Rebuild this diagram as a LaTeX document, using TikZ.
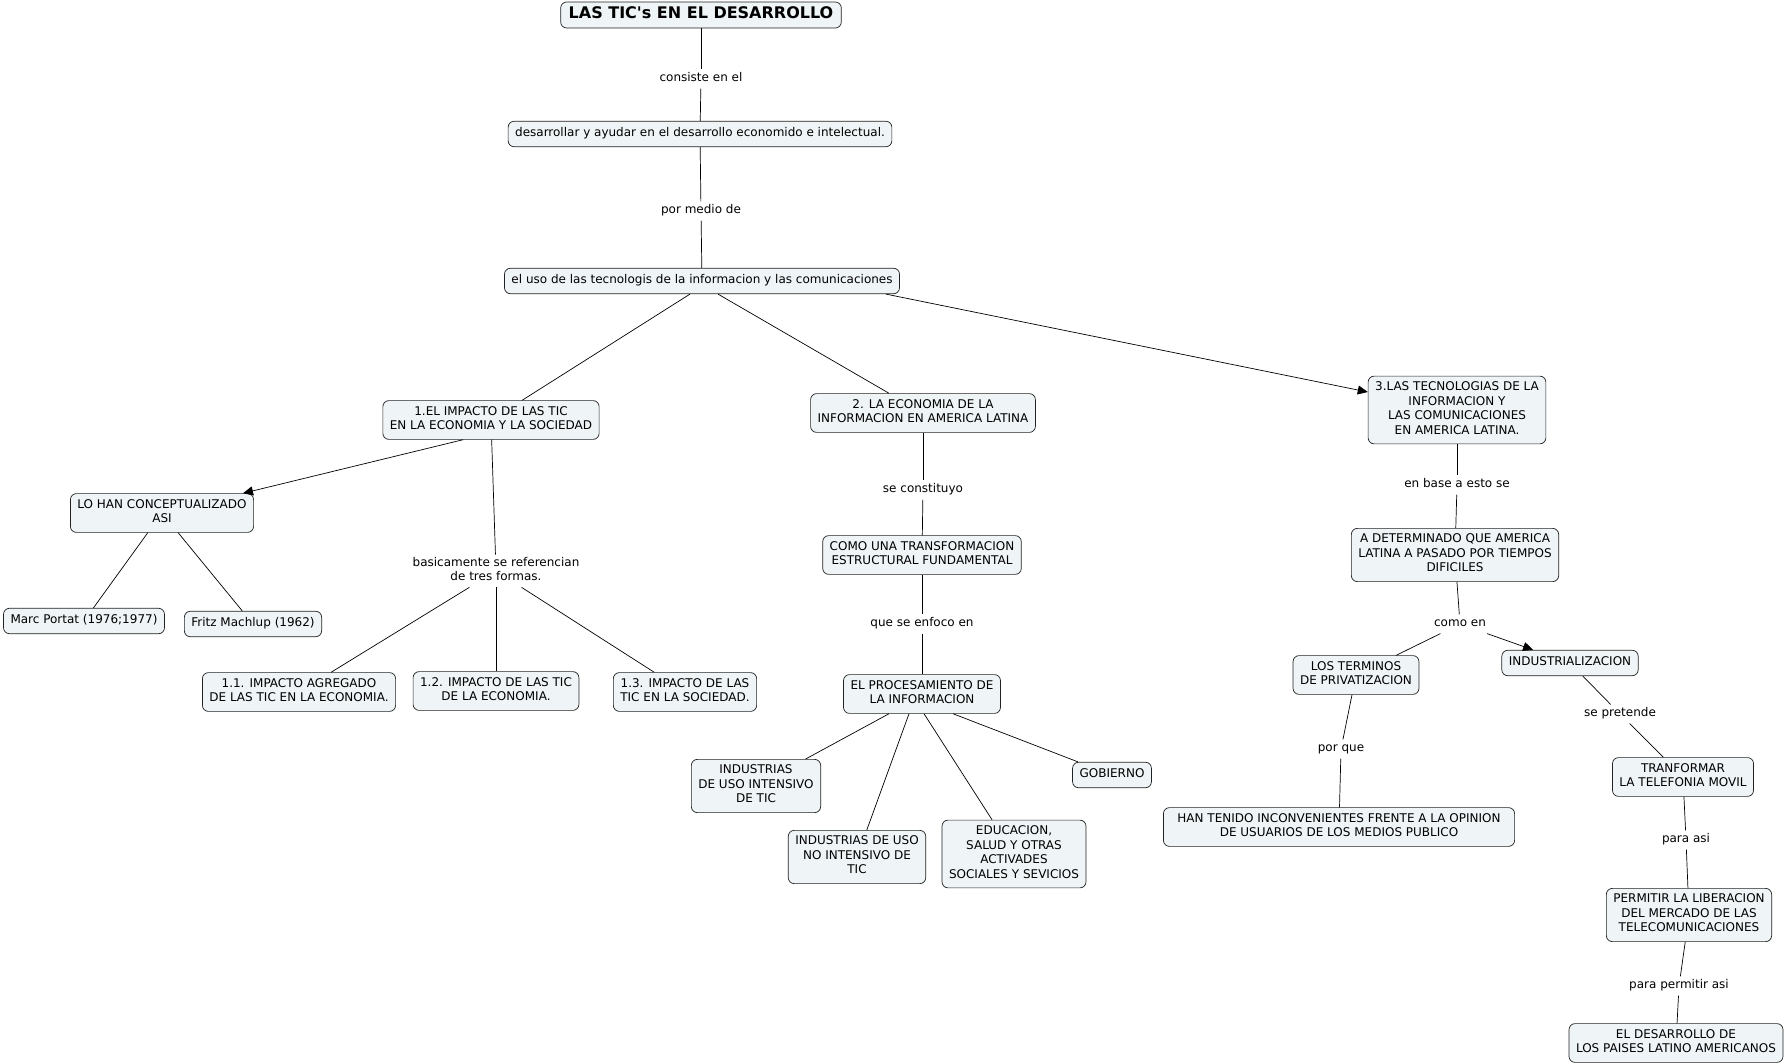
\documentclass[tikz,border=0pt]{standalone}
\usepackage{fontspec}
\setmainfont{DejaVu Sans}
\usepackage{tikz}
\usetikzlibrary{arrows.meta}
\definecolor{conceptfill}{RGB}{239,244,246}
\definecolor{conceptdraw}{RGB}{34,34,34}

\begin{document}
\begin{tikzpicture}[x=1pt,y=-1pt,line width=0.7pt,>={Triangle[length=10pt,width=9pt]},
    concept/.style={draw=conceptdraw,fill=conceptfill,rounded corners=6pt,align=center,
      inner xsep=7pt,inner ysep=5.5pt,font=\fontsize{12}{14.5}\selectfont,
      execute at begin node=\strut,execute at end node=\strut},
    title/.style={concept,font=\fontsize{16}{18}\selectfont\bfseries,inner xsep=8pt,inner ysep=4pt},
    link/.style={align=center,inner sep=2pt,font=\fontsize{12}{14.5}\selectfont,
      execute at begin node=\strut,execute at end node=\strut}]
    \useasboundingbox (0,0) rectangle (1791,1064);
    % concepts
    \node[title]   (c_tic)   at (701,15)   {LAS TIC\textquotesingle s EN EL DESARROLLO};
    \node[concept] (c_desa)  at (700,134)  {desarrollar y ayudar en el desarrollo economido e intelectual.};
    \node[concept] (c_uso)   at (702,281)  {el uso de las tecnologis de la informacion y las comunicaciones};
    \node[concept] (c_imp)   at (491,420)  {1.EL IMPACTO DE LAS TIC\\EN LA ECONOMIA Y LA SOCIEDAD};
    \node[concept] (c_eco)   at (923,413)  {2. LA ECONOMIA DE LA\\INFORMACION EN AMERICA LATINA};
    \node[concept] (c_tec)   at (1457,410) {3.LAS TECNOLOGIAS DE LA\\INFORMACION Y\\LAS COMUNICACIONES\\EN AMERICA LATINA.};
    \node[concept] (c_conc)  at (162,513)  {LO HAN CONCEPTUALIZADO\\ASI};
    \node[concept] (c_marc)  at (84,621)   {Marc Portat (1976;1977)};
    \node[concept] (c_fritz) at (253,624)  {Fritz Machlup (1962)};
    \node[concept] (c_s11)   at (299,692)  {1.1. IMPACTO AGREGADO\\DE LAS TIC EN LA ECONOMIA.};
    \node[concept] (c_s12)   at (496,691)  {1.2. IMPACTO DE LAS TIC\\DE LA ECONOMIA.};
    \node[concept] (c_s13)   at (685,692)  {1.3. IMPACTO DE LAS\\TIC EN LA SOCIEDAD.};
    \node[concept] (c_trans) at (922,555)  {COMO UNA TRANSFORMACION\\ESTRUCTURAL FUNDAMENTAL};
    \node[concept] (c_proc)  at (922,694)  {EL PROCESAMIENTO DE\\LA INFORMACION};
    \node[concept] (c_int)   at (756,786)  {INDUSTRIAS\\DE USO INTENSIVO\\DE TIC};
    \node[concept] (c_noint) at (857,857)  {INDUSTRIAS DE USO\\NO INTENSIVO DE\\TIC};
    \node[concept] (c_edu)   at (1014,854) {EDUCACION,\\SALUD Y OTRAS\\ACTIVADES\\SOCIALES Y SEVICIOS};
    \node[concept] (c_gob)   at (1112,775) {GOBIERNO};
    \node[concept] (c_det)   at (1455,555) {A DETERMINADO QUE AMERICA\\LATINA A PASADO POR TIEMPOS\\DIFICILES};
    \node[concept] (c_term)  at (1356,675) {LOS TERMINOS\\DE PRIVATIZACION};
    \node[concept] (c_indus) at (1570,663) {INDUSTRIALIZACION};
    \node[concept,inner xsep=14pt] (c_han) at (1339,827) {HAN TENIDO INCONVENIENTES FRENTE A LA OPINION\\DE USUARIOS DE LOS MEDIOS PUBLICO};
    \node[concept] (c_tranf) at (1683,777) {TRANFORMAR\\LA TELEFONIA MOVIL};
    \node[concept] (c_perm)  at (1689,915) {PERMITIR LA LIBERACION\\DEL MERCADO DE LAS\\TELECOMUNICACIONES};
    \node[concept] (c_paises) at (1676,1043) {EL DESARROLLO DE\\LOS PAISES LATINO AMERICANOS};
    % linking phrases
    \node[link] (l_cons)   at (701,79)   {consiste en el};
    \node[link] (l_medio)  at (701,211)  {por medio de};
    \node[link] (l_basic)  at (496,571)  {basicamente se referencian\\de tres formas.};
    \node[link] (l_const)  at (923,490)  {se constituyo};
    \node[link] (l_enfoco) at (922,624)  {que se enfoco en};
    \node[link] (l_base)   at (1457,485) {en base a esto se};
    \node[link] (l_como)   at (1460,624) {como en};
    \node[link] (l_porque) at (1341,749) {por que};
    \node[link] (l_pret)   at (1620,714) {se pretende};
    \node[link] (l_asi)    at (1686,840) {para asi};
    \node[link] (l_perm)   at (1679,986) {para permitir asi};
    % connections
    \path (c_tic) edge (l_cons)
          (l_cons) edge (c_desa)
          (c_desa) edge (l_medio)
          (l_medio) edge (c_uso)
          ([xshift=-12pt]c_uso.south) edge (c_imp)
          ([xshift=16pt]c_uso.south) edge (c_eco)
          ([xshift=-14pt]c_uso.south east) edge[->] (c_tec)
          ([xshift=-28pt]c_imp.south) edge[->] (c_conc)
          (c_imp) edge (l_basic)
          (c_conc) edge (c_marc)
                   edge (c_fritz)
          (l_basic) edge (c_s11)
                    edge (c_s12)
                    edge (c_s13)
          (c_eco) edge (l_const)
          (l_const) edge (c_trans)
          (c_trans) edge (l_enfoco)
          (l_enfoco) edge (c_proc)
          ([xshift=-33pt]c_proc.south) edge (c_int)
          ([xshift=-13pt]c_proc.south) edge (c_noint)
          ([xshift=2pt]c_proc.south) edge (c_edu)
          ([xshift=31pt]c_proc.south) edge (c_gob)
          (c_tec) edge (l_base)
          (l_base) edge (c_det)
          (c_det) edge (l_como)
          (l_como) edge (c_term)
                   edge[->] (c_indus)
          (c_term) edge (l_porque)
          (l_porque) edge (c_han)
          (c_indus) edge (l_pret)
          (l_pret) edge (c_tranf)
          (c_tranf) edge (l_asi)
          (l_asi) edge (c_perm)
          (c_perm) edge (l_perm)
          (l_perm) edge (c_paises);
\end{tikzpicture}
\end{document}
